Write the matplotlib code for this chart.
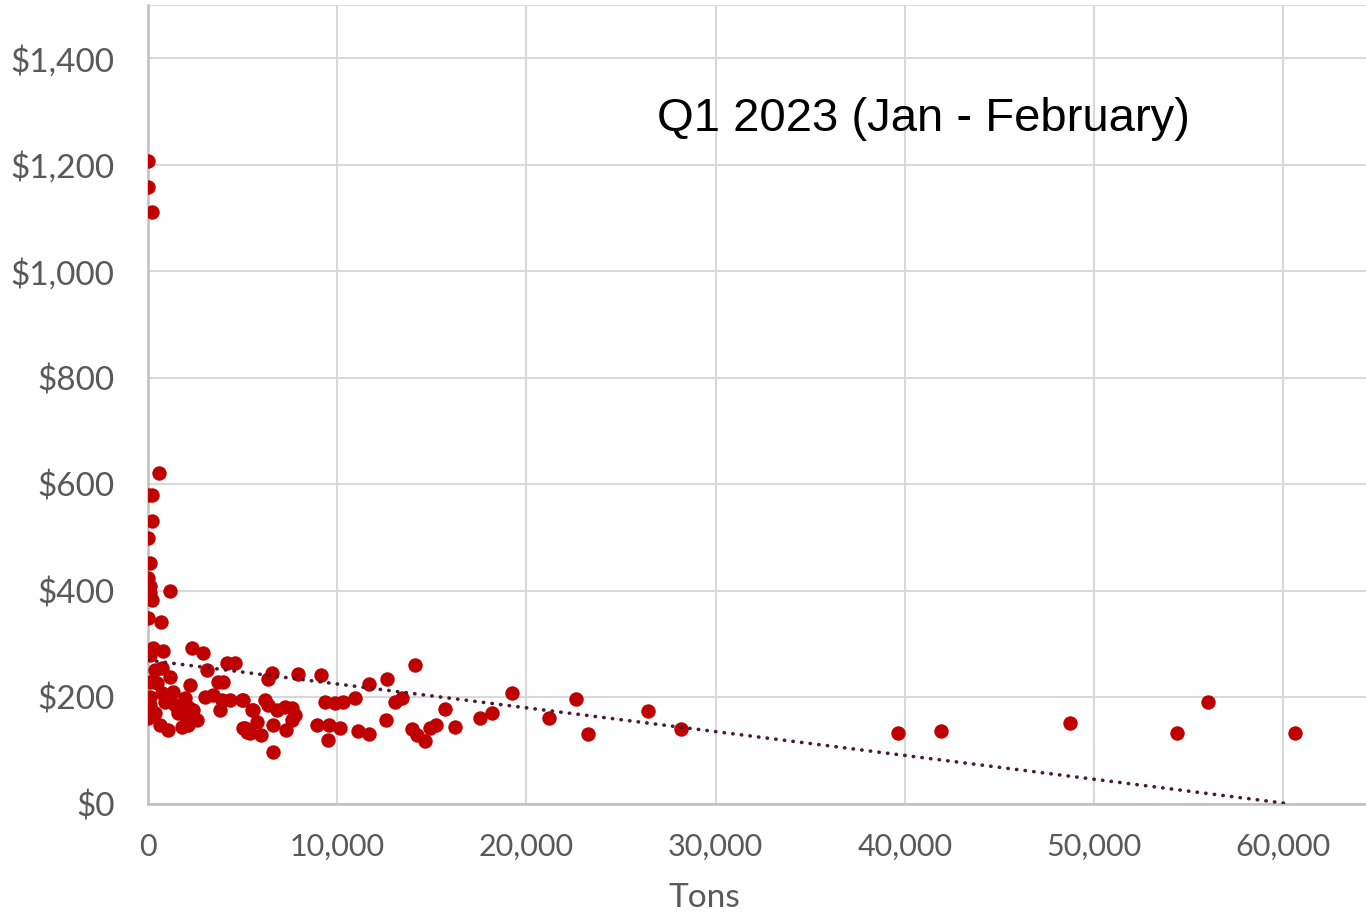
import matplotlib
matplotlib.use('Agg')
import matplotlib.pyplot as plt
from matplotlib.ticker import FuncFormatter, MultipleLocator
import numpy as np

# tons shipped vs price per ton, Q1 2023
tons = [
    0, 0, 210, 580, 0, 210, 210, 0, 110, 0, 110, 110, 210, 1160, 0, 690,
    260, 790, 110, 2330, 2910, 3120, 4180, 4600, 370, 740, 1160, 110, 480,
    2220, 3700, 3960, 1320, 110, 740, 1960, 3010, 3440, 3910, 4330, 4970,
    110, 900, 1430, 2110, 3810, 2380, 0, 370, 1590, 1960, 630, 1060, 1800,
    2110, 2590, 5130, 5500, 5390,
    6550, 6340, 7930, 9140, 5020, 6180, 5550, 6340, 6820, 7240, 7610, 7770,
    7610, 9360, 9880, 10310, 10940, 5020, 5230, 5760, 5970, 6610, 7290,
    8930, 9570, 10150, 9510, 6610,
    14110, 11680, 12630, 13050, 13420, 15700, 12580, 17550, 18180, 11100,
    11680, 13950, 14220, 14640, 14900, 15220, 16230,
    19240, 21190, 22620, 23250, 26430, 28170,
    39640, 41910, 48730, 54380, 56020, 60620,
]
price = [
    1208, 1159, 1111, 621, 580, 580, 531, 499, 452, 424, 409, 396, 383, 400, 349, 341,
    293, 287, 280, 293, 283, 251, 265, 265, 251, 255, 238, 229, 227,
    223, 229, 229, 210, 201, 208, 199, 201, 204, 195, 195, 195,
    186, 191, 186, 182, 176, 176, 161, 171, 171, 167, 148, 139, 144,
    148, 158, 143, 176, 133,
    246, 234, 244, 242, 195, 195, 176, 186, 176, 182, 180, 167,
    158, 191, 189, 191, 199, 143, 135, 154, 129, 148, 139,
    148, 148, 143, 120, 98,
    261, 225, 234, 191, 199, 178, 158, 161, 171, 137,
    131, 141, 129, 118, 143, 148, 144,
    208, 161, 197, 131, 174, 141,
    133, 137, 152, 133, 191, 133,
]

# linear trend line end points
trend_x = [0, 60400]
trend_y = [270, 0]

GRAY_TXT = '#595959'
TICK_FONT = 'Lato'

fig = plt.figure(figsize=(13.66, 9.17), dpi=100)
ax = fig.add_axes([148 / 1366, 113 / 917, 1 - 148 / 1366, 799 / 917])

ax.set_xlim(0, 64370)
ax.set_ylim(0, 1500)
ax.xaxis.set_major_locator(MultipleLocator(10000))
ax.yaxis.set_major_locator(MultipleLocator(200))
ax.xaxis.set_major_formatter(FuncFormatter(lambda v, p: f'{v:,.0f}'))
ax.yaxis.set_major_formatter(FuncFormatter(lambda v, p: f'${v:,.0f}' if v <= 1400 else ''))

ax.grid(True, color='#D9D9D9', linewidth=1.5)
ax.set_axisbelow(True)
ax.axhline(1500, color='#D9D9D9', linewidth=1.5, zorder=0)
for side in ['top', 'right']:
    ax.spines[side].set_visible(False)
for side in ['left', 'bottom']:
    ax.spines[side].set_color('#BFBFBF')
    ax.spines[side].set_linewidth(1.8)

ax.tick_params(axis='both', length=0, labelcolor=GRAY_TXT)
ax.tick_params(axis='x', pad=21, labelsize=22)
ax.tick_params(axis='y', pad=24, labelsize=24)
for lab in ax.get_xticklabels() + ax.get_yticklabels():
    lab.set_fontfamily(TICK_FONT)

ax.scatter(tons, price, s=108, color='#C00000', zorder=3, linewidths=0)
ax.plot(trend_x, trend_y, color='#4B1A35', linewidth=2.6, linestyle=(0, (0.1, 2.3)),
        dash_capstyle='round', zorder=4)

ax.set_xlabel('Tons', fontsize=24, color=GRAY_TXT, fontfamily=TICK_FONT)
ax.xaxis.set_label_coords(0.457, -0.118)
ax.xaxis.label.set_va('center')

# title placed inside the plot area, upper right
ax.text(0.637, 0.857, 'Q1 2023 (Jan - February)', transform=ax.transAxes,
        fontsize=34, fontfamily='Liberation Sans', ha='center', va='center', color='black')

fig.savefig('out.png', dpi=100)
